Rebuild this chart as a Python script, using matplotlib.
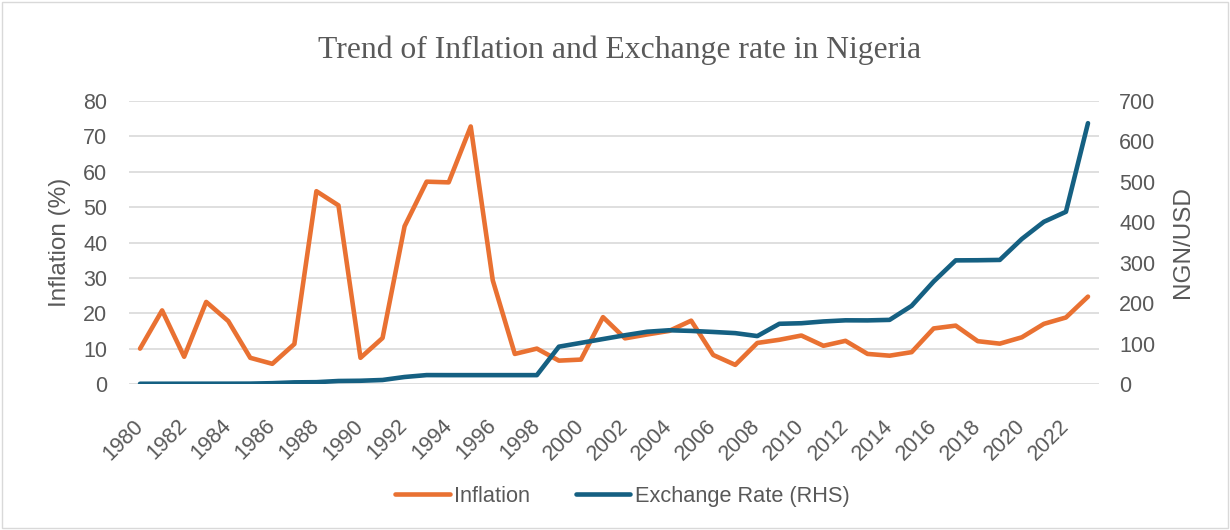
import matplotlib.pyplot as plt
from matplotlib.patches import Rectangle

# Data
years = list(range(1980, 2024))
inflation = [10.0, 20.8, 7.7, 23.2, 17.8, 7.4, 5.7, 11.3, 54.5, 50.5,
             7.4, 13.0, 44.6, 57.2, 57.0, 72.8, 29.3, 8.5, 10.0, 6.6,
             6.9, 18.9, 12.9, 14.0, 15.0, 17.9, 8.2, 5.4, 11.6, 12.5,
             13.7, 10.8, 12.2, 8.5, 8.0, 9.0, 15.7, 16.5, 12.1, 11.4,
             13.2, 17.0, 18.8, 24.7]
exchange_rate = [0.55, 0.61, 0.67, 0.72, 0.77, 0.89, 2.0, 4.0, 4.5, 7.4,
                 8.0, 9.9, 17.3, 22.0, 21.9, 21.9, 21.9, 21.9, 21.9, 92.3,
                 101.7, 111.2, 120.6, 129.2, 132.9, 131.3, 128.7, 125.8, 118.5, 148.9,
                 150.3, 154.7, 157.5, 157.3, 158.6, 193.3, 253.5, 305.8, 306.1, 306.9,
                 358.8, 401.2, 426.0, 645.2]

orange = '#E97132'
blue = '#156082'
grey = '#595959'
sans = ['Liberation Sans', 'DejaVu Sans']

fig = plt.figure(figsize=(12.3, 5.3), dpi=100)
fig.patches.append(Rectangle((0.002, 0.003), 0.996, 0.994, transform=fig.transFigure,
                             fill=False, edgecolor='#D9D9D9', linewidth=1))

ax = fig.add_axes([0.1049, 0.2755, 0.7886, 0.5339])
ax2 = ax.twinx()

x = list(range(len(years)))
l1, = ax.plot(x, inflation, color=orange, lw=3.3, solid_joinstyle='round',
              solid_capstyle='round', label='Inflation', zorder=3)
l2, = ax2.plot(x, exchange_rate, color=blue, lw=3.3, solid_joinstyle='round',
               solid_capstyle='round', label='Exchange Rate (RHS)')

ax.set_xlim(-0.5, len(years) - 0.5)
ax.set_ylim(0, 80)
ax2.set_ylim(0, 700)
ax.set_yticks(range(0, 81, 10))
ax2.set_yticks(range(0, 701, 100))
ax.yaxis.grid(True, color='#D9D9D9', lw=1.2)
ax.set_axisbelow(True)

ax.set_xticks(x[::2])
ax.set_xticklabels([str(y) for y in years[::2]], rotation=45, ha='right', va='center',
                   rotation_mode='anchor', fontsize=14, color=grey, family=sans)
for a in (ax, ax2):
    for s in a.spines.values():
        s.set_visible(False)
    a.tick_params(length=0, labelsize=15.5, labelcolor=grey)
ax.tick_params(axis='x', pad=28)
ax.tick_params(axis='y', pad=15.5)
ax2.tick_params(axis='y', pad=14.5)
for lab in ax.get_yticklabels() + ax2.get_yticklabels():
    lab.set_family(sans)

ax.set_ylabel('Inflation (%)', fontsize=17.5, color=grey, family=sans, labelpad=9)
ax2.set_ylabel('NGN/USD', fontsize=17.5, color=grey, family=sans, labelpad=12)

fig.text(0.504, 0.905, 'Trend of Inflation and Exchange rate in Nigeria',
         ha='center', va='center', fontsize=22.8, color=grey, family='Liberation Serif')

fig.legend(handles=[l1, l2], loc='center', bbox_to_anchor=(0.506, 0.064), ncol=2,
           frameon=False, prop={'family': sans, 'size': 15.7}, labelcolor=grey,
           handlelength=2.5, handletextpad=0.2, columnspacing=2.1)

fig.savefig('out.png', dpi=100)
